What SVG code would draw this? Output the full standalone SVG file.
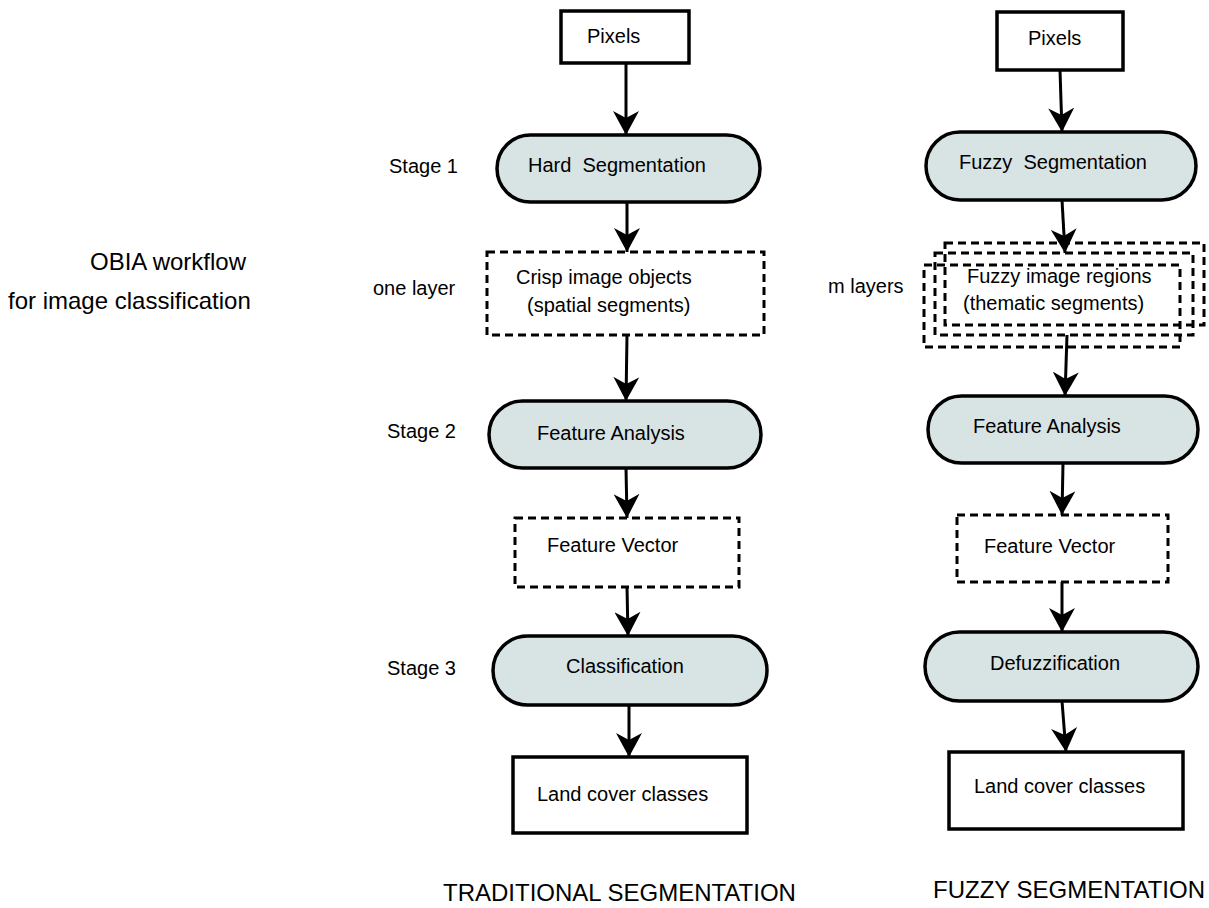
<svg xmlns="http://www.w3.org/2000/svg" width="1209" height="908" viewBox="0 0 1209 908">
<style>
text{font-family:"Liberation Sans",Arial,sans-serif;font-size:20px;fill:#000;white-space:pre}
.big{font-size:24px}
.lbl{font-size:24px}
.solid{fill:#fff;stroke:#000;stroke-width:3.5}
.pill{fill:#d8e4e4;stroke:#000;stroke-width:3.5}
.dash{fill:none;stroke:#000;stroke-width:3;stroke-dasharray:8 5}
.dashw{fill:#fff;stroke:#000;stroke-width:3;stroke-dasharray:8 5}
.conn{stroke:#000;stroke-width:3;fill:none;marker-end:url(#ah)}
</style>
<defs>
<marker id="ah" markerUnits="userSpaceOnUse" markerWidth="26" markerHeight="26" refX="24" refY="13" orient="auto">
<path d="M24,13 L0,0 L7,13 L0,26 Z" fill="#000"/>
</marker>
</defs>
<rect width="1209" height="908" fill="#fff"/>

<g id="side-labels">
<text class="lbl" x="168" y="270" text-anchor="middle">OBIA workflow</text>
<text class="lbl" x="8" y="309">for image classification</text>
<text x="389" y="173">Stage 1</text>
<text x="373" y="295">one layer</text>
<text x="387" y="438">Stage 2</text>
<text x="387" y="675">Stage 3</text>
<text x="828" y="293">m layers</text>
<text class="big" x="443" y="901">TRADITIONAL SEGMENTATION</text>
<text class="big" x="933" y="898">FUZZY SEGMENTATION</text>
</g>

<g id="L-pixels"><rect class="solid" x="561" y="11" width="128" height="52"/><text x="587" y="43">Pixels</text></g>
<g id="L-hardseg"><rect class="pill" x="497" y="135" width="263" height="67" rx="33.5"/><text x="528" y="172">Hard  Segmentation</text></g>
<g id="L-crisp"><rect class="dashw" x="487" y="252" width="277" height="83"/><text x="516" y="284">Crisp image objects</text><text x="527" y="312">(spatial segments)</text></g>
<g id="L-feat"><rect class="pill" x="489" y="401" width="272" height="67" rx="33.5"/><text x="537" y="440">Feature Analysis</text></g>
<g id="L-vec"><rect class="dashw" x="515" y="518" width="224" height="69"/><text x="547" y="552">Feature Vector</text></g>
<g id="L-class"><rect class="pill" x="493" y="636" width="274" height="69" rx="34.5"/><text x="566" y="673">Classification</text></g>
<g id="L-land"><rect class="solid" x="513" y="757" width="234" height="76"/><text x="537" y="801">Land cover classes</text></g>

<g id="R-pixels"><rect class="solid" x="997" y="12" width="126" height="58"/><text x="1028" y="45">Pixels</text></g>
<g id="R-fuzzyseg"><rect class="pill" x="926" y="132" width="270" height="68" rx="34"/><text x="959" y="169">Fuzzy  Segmentation</text></g>
<g id="R-regions">
<rect class="dash" x="945" y="243" width="259" height="82"/>
<rect class="dash" x="935" y="253" width="258" height="82"/>
<rect class="dash" x="924" y="265" width="256" height="82"/>
<text x="967" y="283">Fuzzy image regions</text><text x="963" y="310">(thematic segments)</text>
</g>
<g id="R-feat"><rect class="pill" x="928" y="396" width="270" height="67" rx="33.5"/><text x="973" y="433">Feature Analysis</text></g>
<g id="R-vec"><rect class="dashw" x="957" y="515" width="211" height="67"/><text x="984" y="553">Feature Vector</text></g>
<g id="R-defuzz"><rect class="pill" x="925" y="632" width="273" height="69" rx="34.5"/><text x="990" y="670">Defuzzification</text></g>
<g id="R-land"><rect class="solid" x="949" y="752" width="234" height="77"/><text x="974" y="793">Land cover classes</text></g>

<g id="connectors">
<line class="conn" x1="626" y1="63" x2="626" y2="135"/>
<line class="conn" x1="627" y1="202" x2="627" y2="252"/>
<line class="conn" x1="627" y1="335" x2="626" y2="401"/>
<line class="conn" x1="626" y1="468" x2="627" y2="518"/>
<line class="conn" x1="627" y1="587" x2="628" y2="636"/>
<line class="conn" x1="629" y1="705" x2="629" y2="757"/>
<line class="conn" x1="1060" y1="70" x2="1062" y2="132"/>
<line class="conn" x1="1062" y1="200" x2="1065" y2="253"/>
<line class="conn" x1="1067" y1="335" x2="1065" y2="396"/>
<line class="conn" x1="1063" y1="463" x2="1062" y2="515"/>
<line class="conn" x1="1062" y1="582" x2="1062" y2="632"/>
<line class="conn" x1="1062" y1="701" x2="1066" y2="752"/>
</g>
</svg>
